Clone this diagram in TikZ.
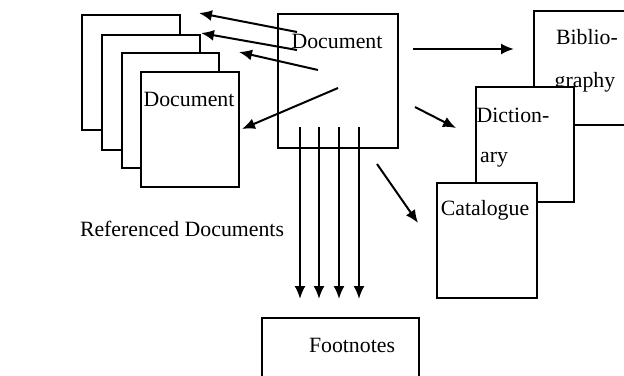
\documentclass[tikz,border=0pt]{standalone}
\usepackage{fontspec}
\setmainfont{Liberation Serif}
\usetikzlibrary{arrows.meta}
\tikzset{
  sheet/.style={draw, fill=white, line width=2pt, inner sep=0pt, anchor=north west},
  lbl/.style={font=\fontsize{21.8}{24}\selectfont, inner sep=0pt},
  link/.style={line width=2pt, -{Latex[length=13pt,width=11pt]}}
}
\begin{document}
\begin{tikzpicture}[x=1pt,y=-1pt]
  \useasboundingbox (0,0) rectangle (624,375);
  %referenced documents
  \node[sheet, minimum width=98pt, minimum height=115pt] (page1) at (81,14) {};
  \node[sheet, minimum width=98pt, minimum height=115pt] (page2) at (101,34) {};
  \node[sheet, minimum width=97pt, minimum height=115pt] (page3) at (121,52) {};
  \node[sheet, minimum width=98pt, minimum height=115pt] (page4) at (140,71) {};
  \node[lbl] (pagetxt) at (189,99) {Document};
  \node[lbl] (reftxt) at (182,229) {Referenced Documents};
  %main document
  \node[sheet, minimum width=120pt, minimum height=134pt] (doc) at (277,13) {};
  \node[lbl] (doctxt) at (337,41) {Document};
  %right side
  \node[sheet, minimum width=110pt, minimum height=114pt] (biblio) at (533,10) {};
  \node[lbl] (bibtxt1) at (587,37) {Biblio-};
  \node[lbl] (bibtxt2) at (585,82) {graphy};
  \node[sheet, minimum width=98pt, minimum height=115pt] (dict) at (475,86) {};
  \node[lbl] (dicttxt1) at (513,115) {Diction-};
  \node[lbl] (dicttxt2) at (494,160) {ary};
  \node[sheet, minimum width=100pt, minimum height=115pt] (catal) at (436,182) {};
  \node[lbl] (cattxt) at (485,210) {Catalogue};
  %footnotes
  \node[sheet, minimum width=157pt, minimum height=80pt] (foot) at (261,317) {};
  \node[lbl] (foottxt) at (352,345) {Footnotes};
  %arrow ends
  \coordinate (s1) at (297,32);  \coordinate (e1) at (199,13);
  \coordinate (s2) at (297,50);  \coordinate (e2) at (201,33);
  \coordinate (s3) at (318,70);  \coordinate (e3) at (239,52);
  \coordinate (s4) at (338,88);  \coordinate (e4) at (242,129);
  \coordinate (s5) at (413,49);  \coordinate (e5) at (514,49);
  \coordinate (s6) at (415,107); \coordinate (e6) at (456,128);
  \coordinate (s7) at (377,164); \coordinate (e7) at (418,223);
  %arrows
  \draw[link] (s1) -- (e1);
  \draw[link] (s2) -- (e2);
  \draw[link] (s3) -- (e3);
  \draw[link] (s4) -- (e4);
  \draw[link] (s5) -- (e5);
  \draw[link] (s6) -- (e6);
  \draw[link] (s7) -- (e7);
  \foreach \i/\xx in {1/300,2/319,3/339,4/359}{
    \coordinate (d\i) at (\xx,127);
    \coordinate (f\i) at (\xx,299);
    \draw[link] (d\i) -- (f\i);
  }
\end{tikzpicture}
\end{document}
